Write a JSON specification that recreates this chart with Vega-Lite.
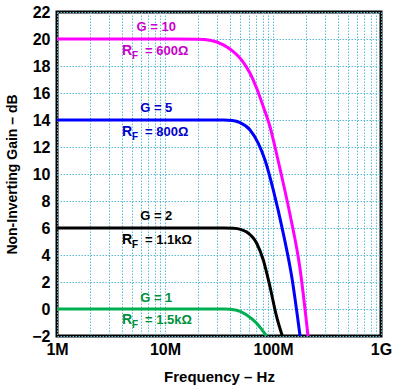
{
  "$schema": "https://vega.github.io/schema/vega-lite/v6.json",
  "autosize": "none",
  "width": 324,
  "height": 324,
  "padding": {"left": 57, "top": 12, "right": 21, "bottom": 53},
  "background": "white",
  "config": {
    "view": {"stroke": "#000000", "strokeWidth": 3},
    "font": "Liberation Sans",
    "axis": {
      "labelFont": "Liberation Sans",
      "labelFontWeight": "bold",
      "labelFontSize": 16,
      "labelColor": "#000000",
      "labelFlush": false,
      "labelOverlap": false,
      "titleFont": "Liberation Sans",
      "titleFontWeight": "bold",
      "titleColor": "#000000",
      "ticks": false,
      "domain": false,
      "grid": true,
      "gridColor": "#5bbcd6",
      "gridDash": [1.5, 1.5],
      "gridWidth": 1,
      "gridOpacity": 1
    }
  },
  "datasets": {
    "curves": [
      {"s": "G10", "f": 1000000, "db": 20},
      {"s": "G10", "f": 12000000, "db": 20},
      {"s": "G10", "f": 20000000, "db": 19.98},
      {"s": "G10", "f": 26100000, "db": 19.9},
      {"s": "G10", "f": 34700000, "db": 19.56},
      {"s": "G10", "f": 42900000, "db": 19.06},
      {"s": "G10", "f": 51300000, "db": 18.44},
      {"s": "G10", "f": 61300000, "db": 17.46},
      {"s": "G10", "f": 70600000, "db": 16.35},
      {"s": "G10", "f": 81300000, "db": 14.99},
      {"s": "G10", "f": 93800000, "db": 13.5},
      {"s": "G10", "f": 104400000, "db": 12.0},
      {"s": "G10", "f": 116000000, "db": 10.4},
      {"s": "G10", "f": 143700000, "db": 7.0},
      {"s": "G10", "f": 177800000, "db": 3.0},
      {"s": "G10", "f": 211000000, "db": -2},
      {"s": "G5", "f": 1000000, "db": 14},
      {"s": "G5", "f": 35000000, "db": 14},
      {"s": "G5", "f": 42000000, "db": 13.96},
      {"s": "G5", "f": 49500000, "db": 13.8},
      {"s": "G5", "f": 61300000, "db": 13.26},
      {"s": "G5", "f": 73100000, "db": 12.27},
      {"s": "G5", "f": 84300000, "db": 11.04},
      {"s": "G5", "f": 100700000, "db": 8.81},
      {"s": "G5", "f": 124500000, "db": 5.6},
      {"s": "G5", "f": 149000000, "db": 2.4},
      {"s": "G5", "f": 178000000, "db": -2},
      {"s": "G2", "f": 1000000, "db": 6},
      {"s": "G2", "f": 35000000, "db": 6},
      {"s": "G2", "f": 42900000, "db": 5.98},
      {"s": "G2", "f": 50000000, "db": 5.9},
      {"s": "G2", "f": 57100000, "db": 5.7},
      {"s": "G2", "f": 70600000, "db": 4.87},
      {"s": "G2", "f": 81300000, "db": 3.63},
      {"s": "G2", "f": 93800000, "db": 1.65},
      {"s": "G2", "f": 108000000, "db": -0.57},
      {"s": "G2", "f": 122000000, "db": -2},
      {"s": "G1", "f": 1000000, "db": 0},
      {"s": "G1", "f": 35000000, "db": 0},
      {"s": "G1", "f": 45000000, "db": -0.08},
      {"s": "G1", "f": 57100000, "db": -0.44},
      {"s": "G1", "f": 70600000, "db": -1.06},
      {"s": "G1", "f": 87000000, "db": -2}
    ],
    "glabels": [
      {"s": "G10", "g": "G = 10", "f": 8300000, "db": 20.9},
      {"s": "G5", "g": "G = 5", "f": 8300000, "db": 14.9},
      {"s": "G2", "g": "G = 2", "f": 8300000, "db": 6.9},
      {"s": "G1", "g": "G = 1", "f": 8300000, "db": 0.8}
    ],
    "rlabels": [
      {"s": "G10", "rest": "= 600Ω", "f": 4000000, "db": 19.1},
      {"s": "G5", "rest": "= 800Ω", "f": 4000000, "db": 13.1},
      {"s": "G2", "rest": "= 1.1kΩ", "f": 4000000, "db": 5.1},
      {"s": "G1", "rest": "= 1.5kΩ", "f": 4000000, "db": -0.8}
    ]
  },
  "encoding": {
    "x": {
      "field": "f",
      "type": "quantitative",
      "scale": {"type": "log", "domain": [1000000, 1000000000], "nice": false},
      "axis": {
        "title": "Frequency – Hz",
        "titleFontSize": 15,
        "titlePadding": 12,
        "labelPadding": 5,
        "labelOverlap": false,
        "values": [1000000, 2000000, 3000000, 4000000, 5000000, 6000000, 7000000, 8000000, 9000000, 10000000, 20000000, 30000000, 40000000, 50000000, 60000000, 70000000, 80000000, 90000000, 100000000, 200000000, 300000000, 400000000, 500000000, 600000000, 700000000, 800000000, 900000000, 1000000000],
        "labelExpr": "datum.value == 1000000 ? '1M' : datum.value == 10000000 ? '10M' : datum.value == 100000000 ? '100M' : datum.value == 1000000000 ? '1G' : ''"
      }
    },
    "y": {
      "field": "db",
      "type": "quantitative",
      "scale": {"domain": [-2, 22], "nice": false, "zero": false},
      "axis": {
        "title": "Non-Inverting Gain – dB",
        "titleFontSize": 14,
        "titlePadding": 12,
        "labelPadding": 7,
        "labelOverlap": false,
        "values": [-2, 0, 2, 4, 6, 8, 10, 12, 14, 16, 18, 20, 22]
      }
    }
  },
  "resolve": {"scale": {"color": "independent"}},
  "layer": [
    {
      "data": {"name": "curves"},
      "mark": {"type": "line", "interpolate": "monotone", "strokeWidth": 3, "clip": true},
      "encoding": {
        "detail": {"field": "s"},
        "color": {"field": "s", "type": "nominal", "scale": {"domain": ["G10", "G5", "G2", "G1"], "range": ["#ff00ff", "#0000ff", "#000000", "#00b050"]}, "legend": null}
      }
    },
    {
      "data": {"name": "glabels"},
      "mark": {"type": "text", "font": "Liberation Sans", "fontWeight": "bold", "fontSize": 13, "align": "center", "baseline": "middle"},
      "encoding": {
        "text": {"field": "g"},
        "color": {"field": "s", "type": "nominal", "scale": {"domain": ["G10", "G5", "G2", "G1"], "range": ["#cc00cc", "#0000cc", "#000000", "#00903c"]}, "legend": null}
      }
    },
    {
      "data": {"name": "rlabels"},
      "mark": {"type": "text", "font": "Liberation Sans", "fontWeight": "bold", "fontSize": 14, "align": "left", "baseline": "middle"},
      "encoding": {
        "text": {"value": "R"},
        "color": {"field": "s", "type": "nominal", "scale": {"domain": ["G10", "G5", "G2", "G1"], "range": ["#cc00cc", "#0000cc", "#000000", "#00903c"]}, "legend": null}
      }
    },
    {
      "data": {"name": "rlabels"},
      "mark": {"type": "text", "font": "Liberation Sans", "fontWeight": "bold", "fontSize": 10, "align": "left", "baseline": "middle", "dx": 10, "dy": 5},
      "encoding": {
        "text": {"value": "F"},
        "color": {"field": "s", "type": "nominal", "scale": {"domain": ["G10", "G5", "G2", "G1"], "range": ["#cc00cc", "#0000cc", "#000000", "#00903c"]}, "legend": null}
      }
    },
    {
      "data": {"name": "rlabels"},
      "mark": {"type": "text", "font": "Liberation Sans", "fontWeight": "bold", "fontSize": 13, "align": "left", "baseline": "middle", "dx": 23},
      "encoding": {
        "text": {"field": "rest"},
        "color": {"field": "s", "type": "nominal", "scale": {"domain": ["G10", "G5", "G2", "G1"], "range": ["#cc00cc", "#0000cc", "#000000", "#00903c"]}, "legend": null}
      }
    }
  ]
}
